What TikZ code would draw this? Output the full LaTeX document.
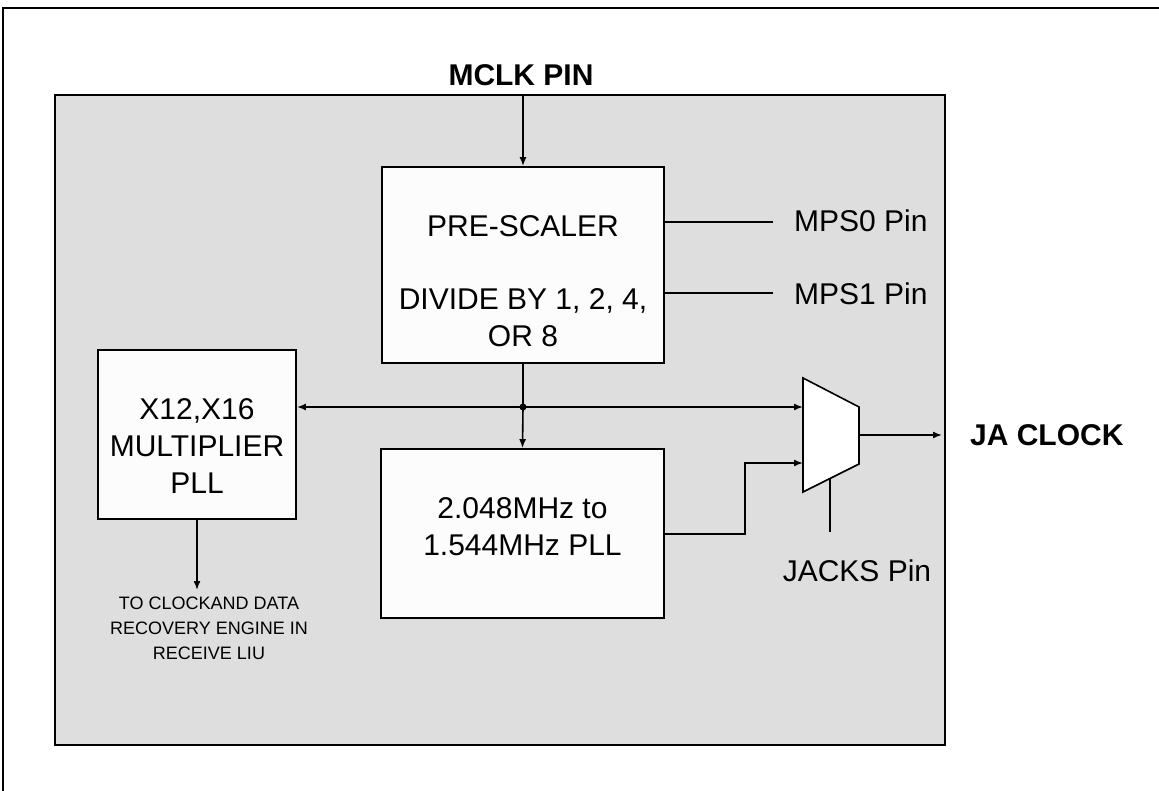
\documentclass[tikz,border=0pt]{standalone}
\usepackage{fontspec}
\setmainfont{Liberation Sans}
\usepackage{tikz}
\usetikzlibrary{arrows.meta,positioning,calc}

\definecolor{panelgray}{RGB}{222,222,222}
\definecolor{boxwhite}{RGB}{251,252,251}

\begin{document}
\begin{tikzpicture}[x=1pt, y=-1pt, line width=1.6pt,
    every node/.style={font=\fontsize{30}{37}\selectfont},
    blockbox/.style={draw, fill=boxwhite, line width=1.8pt, inner sep=0pt},
    sig/.style={-{Latex[length=9pt,width=7pt]}},
    boldlabel/.style={font=\fontsize{30}{37}\selectfont\bfseries},
    smalllabel/.style={font=\fontsize{18}{25}\selectfont, align=center}]
  \useasboundingbox (0,0) rectangle (1159,791);
  % frame and panel
  \draw[line width=2.4pt] (3,791) -- (3,8) -- (1159,8);
  \draw[fill=panelgray, line width=2pt] (55,95) rectangle (945,745);

  % blocks
  \node[blockbox, minimum width=282, minimum height=196] (pre) at (523,265) {};
  \node[align=center] (pretext) at (523,281) {PRE-SCALER\\[36pt]DIVIDE BY 1, 2, 4,\\OR 8};
  \node[blockbox, minimum width=198, minimum height=169] (mult) at (197,434.5) {};
  \node[align=center] (multtext) at (197,446) {X12,X16\\MULTIPLIER\\PLL};
  \node[blockbox, minimum width=283, minimum height=169] (pll) at (522.5,533.5) {};
  \node[align=center] (plltext) at (522.5,527) {2.048MHz to\\1.544MHz PLL};

  % mux
  \coordinate (muxa) at (803,407);
  \coordinate (muxb) at (803,463);
  \coordinate (muxout) at (859,435);
  \coordinate (muxsel) at (830,478.5);
  \draw[fill=white] (803,378) -- (859,407) -- (859,464) -- (803,492) -- cycle;

  % labels
  \node[boldlabel] (mclk) at (521,75) {MCLK PIN};
  \node[anchor=west] (mps0) at (790,221) {MPS0 Pin};
  \node[anchor=west] (mps1) at (790,294) {MPS1 Pin};
  \node[boldlabel, anchor=west] (jaclk) at (966,435) {JA CLOCK};
  \node (jacks) at (857,571) {JACKS Pin};
  \node[smalllabel] (recov) at (209,628) {TO CLOCKAND DATA\\RECOVERY ENGINE IN\\RECEIVE LIU};

  % connections
  \coordinate (mclkin) at (523,95);
  \coordinate (junc) at (523,407);
  \coordinate (mps0end) at (773,222);
  \coordinate (mps1end) at (773,293);
  \coordinate (bend) at (745,534);
  \coordinate (selend) at (830,532);
  \coordinate (outend) at (942,435);

  \draw[sig] (mclkin) -- (pre.north);
  \draw (pre.east |- mps0end) -- (mps0end);
  \draw (pre.east |- mps1end) -- (mps1end);
  \draw (pre.south) -- (junc);
  \draw[sig] (junc) -- (pll.north);
  \draw[sig] (junc) -- (mult.east |- junc);
  \draw[sig] (junc) -- (muxa);
  \fill (junc) circle (3.5pt);
  \draw[sig] (pll.east |- bend) -- (bend) |- (muxb);
  \draw (muxsel) -- (selend);
  \draw[sig] (muxout) -- (outend);
  \draw[sig] (mult.south) -- (197,590);
\end{tikzpicture}
\end{document}
